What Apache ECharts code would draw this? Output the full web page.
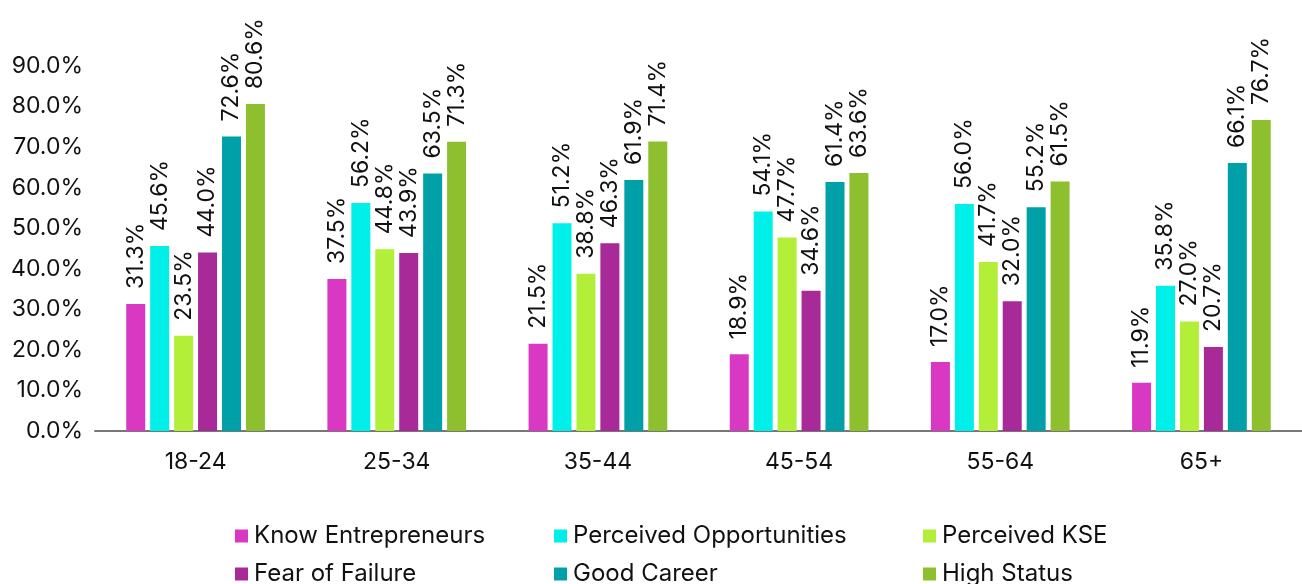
<!DOCTYPE html>
<html>
<head>
<meta charset="utf-8">
<script src="https://cdn.jsdelivr.net/npm/echarts@6/dist/echarts.min.js"></script>
<style>
  html, body { margin: 0; padding: 0; background: #fff; }
  #main { width: 1302px; height: 584px; }
</style>
</head>
<body>
<div id="main"></div>
<script>
// age groups
var categories = ['18-24', '25-34', '35-44', '45-54', '55-64', '65+'];

var knowEntrepreneurs = [31.3, 37.5, 21.5, 18.9, 17.0, 11.9];
var perceivedOpportunities = [45.6, 56.2, 51.2, 54.1, 56.0, 35.8];
var perceivedKSE = [23.5, 44.8, 38.8, 47.7, 41.7, 27.0];
var fearOfFailure = [44.0, 43.9, 46.3, 34.6, 32.0, 20.7];
var goodCareer = [72.6, 63.5, 61.9, 61.4, 55.2, 66.1];
var highStatus = [80.6, 71.3, 71.4, 63.6, 61.5, 76.7];

var seriesNames = ['Know Entrepreneurs', 'Perceived Opportunities', 'Perceived KSE',
    'Fear of Failure', 'Good Career', 'High Status'];
var seriesData = [knowEntrepreneurs, perceivedOpportunities, perceivedKSE,
    fearOfFailure, goodCareer, highStatus];
var colors = ['#d938c2', '#00efe8', '#b3ef39', '#a82a98', '#00a0a9', '#8dbf2e'];

var font = 'Inter, "Noto Sans", sans-serif';

var myChart = echarts.init(document.getElementById('main'));

// one legend per item so the columns line up like the original
var legendPos = [[230, 519], [549, 519], [918, 519], [230, 557], [549, 557], [918, 557]];
var legends = seriesNames.map(function (name, i) {
    return {
        data: [name],
        left: legendPos[i][0],
        top: legendPos[i][1],
        itemWidth: 13,
        itemHeight: 13,
        itemGap: 4,
        icon: 'rect',
        textStyle: { fontFamily: font, fontSize: 24, color: '#111', padding: [0, 0, 0, 1] }
    };
});

var series = seriesNames.map(function (name, i) {
    return {
        name: name,
        type: 'bar',
        data: seriesData[i],
        barWidth: 19,
        barGap: '26%',
        itemStyle: { color: colors[i] },
        label: {
            show: true,
            position: 'top',
            rotate: 90,
            align: 'left',
            verticalAlign: 'middle',
            distance: 15,
            fontFamily: font,
            fontSize: 23,
            color: '#111',
            formatter: function (p) { return p.value.toFixed(1) + '%'; }
        }
    };
});

myChart.setOption({
    animation: false,
    color: colors,
    legend: legends,
    grid: { left: 95, right: -23, top: 66, bottom: 153 },
    xAxis: {
        type: 'category',
        data: categories,
        axisTick: { show: false },
        axisLine: { lineStyle: { color: '#777', width: 2 } },
        axisLabel: { fontFamily: font, fontSize: 23, color: '#111', margin: 20 }
    },
    yAxis: {
        type: 'value',
        min: 0,
        max: 90,
        interval: 10,
        splitLine: { show: false },
        axisLine: { show: false },
        axisLabel: {
            fontFamily: font, fontSize: 23, color: '#111', margin: 12,
            formatter: function (v) { return v.toFixed(1) + '%'; }
        }
    },
    series: series
});
</script>
</body>
</html>
